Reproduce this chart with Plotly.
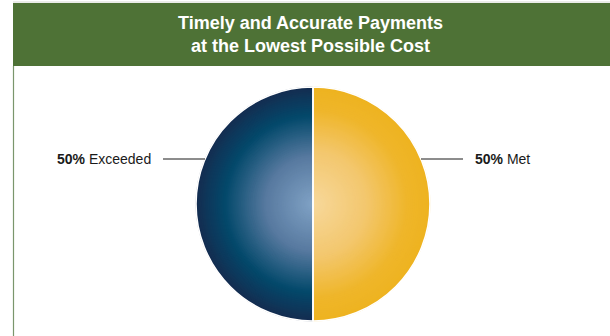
import math
import plotly.graph_objects as go

# ---- data ----
categories = ["Met", "Exceeded"]
shares = [50, 50]
title_lines = ["Timely and Accurate Payments", "at the Lowest Possible Cost"]

# ---- canvas geometry (pixels) ----
W, H = 610, 336
CX, CY, R = 313, 204, 117          # pie centre and radius
BANNER_X0, BANNER_Y0, BANNER_Y1 = 13, 3, 66
LEADER_DY = 45                     # leader lines sit this far above centre

GREEN = "#4e7236"
N_RINGS = 60
FONT = "Liberation Sans, Arial, sans-serif"


def px_x(x):
    return x / W


def px_y(y):
    return 1 - y / H


def lerp_stops(stops, t):
    for (t0, c0), (t1, c1) in zip(stops, stops[1:]):
        if t0 <= t <= t1:
            f = 0 if t1 == t0 else (t - t0) / (t1 - t0)
            return tuple(round(a + (b - a) * f) for a, b in zip(c0, c1))
    return stops[-1][1]


# radial colour ramps, centre (t=0) to rim (t=1)
gold_stops = [(0.0, (247, 216, 155)), (0.45, (243, 199, 110)),
              (0.8, (239, 182, 42)), (1.0, (238, 179, 32))]
navy_stops = [(0.0, (128, 162, 197)), (0.4, (88, 122, 160)),
              (0.75, (3, 73, 107)), (1.0, (21, 44, 80))]

fig = go.Figure()

# concentric full pies from rim inwards build up the radial shading
for k in range(N_RINGS):
    r = R * (N_RINGS - k) / N_RINGS
    t = max(0.0, (r - R / (2 * N_RINGS)) / R)
    cols = [
        "rgb(%d,%d,%d)" % lerp_stops(gold_stops, t),
        "rgb(%d,%d,%d)" % lerp_stops(navy_stops, t),
    ]
    fig.add_trace(go.Pie(
        labels=categories, values=shares, sort=False,
        direction="clockwise", rotation=0,
        domain=dict(x=[px_x(CX - r), px_x(CX + r)],
                    y=[px_y(CY + r), px_y(CY - r)]),
        marker=dict(colors=cols, line=dict(color=cols, width=0.6)),
        textinfo="none", hoverinfo="skip", showlegend=False,
    ))

# white divider between the two halves
fig.add_trace(go.Pie(
    labels=categories, values=shares, sort=False,
    direction="clockwise", rotation=0,
    domain=dict(x=[px_x(CX - R), px_x(CX + R)],
                y=[px_y(CY + R), px_y(CY - R)]),
    marker=dict(colors=["rgba(0,0,0,0)"] * 2,
                line=dict(color="white", width=1.6)),
    textinfo="none", hoverinfo="skip", showlegend=False,
))

shapes = [
    # header banner
    dict(type="rect", xref="paper", yref="paper",
         x0=px_x(BANNER_X0), x1=1, y0=px_y(BANNER_Y1), y1=px_y(BANNER_Y0),
         fillcolor=GREEN, line=dict(width=0), layer="below"),
    dict(type="line", xref="paper", yref="paper",
         x0=px_x(BANNER_X0), x1=1, y0=px_y(2), y1=px_y(2),
         line=dict(color="#d6d9d2", width=1)),
    # left frame rule
    dict(type="line", xref="paper", yref="paper",
         x0=px_x(BANNER_X0 + 0.5), x1=px_x(BANNER_X0 + 0.5),
         y0=0, y1=px_y(BANNER_Y1),
         line=dict(color="#7a966c", width=1.2)),
]

annotations = [
    dict(text="<br>".join(title_lines), xref="paper", yref="paper",
         x=px_x(310), y=px_y(35), xanchor="center", yanchor="middle",
         showarrow=False, align="center",
         font=dict(family=FONT, size=18, color="white", weight="bold")),
]

# leader lines and labels: Met on the right half, Exceeded on the left
dx_edge = math.sqrt(R ** 2 - LEADER_DY ** 2)
ly = CY - LEADER_DY
for name, val, side in zip(categories, shares, [1, -1]):
    x_edge = CX + side * dx_edge
    x_end = CX + side * (dx_edge + 42)
    shapes.append(dict(type="line", xref="paper", yref="paper",
                       x0=px_x(x_edge), x1=px_x(x_end),
                       y0=px_y(ly), y1=px_y(ly),
                       line=dict(color="#1a1a1a", width=1)))
    annotations.append(dict(
        text=f"<b>{val}%</b> {name}", xref="paper", yref="paper",
        x=px_x(x_end + side * 10), y=px_y(ly),
        xanchor="left" if side > 0 else "right", yanchor="middle",
        showarrow=False,
        font=dict(family=FONT, size=14, color="#1a1a1a"),
    ))

fig.update_layout(
    width=W, height=H,
    margin=dict(l=0, r=0, t=0, b=0),
    paper_bgcolor="white", plot_bgcolor="white",
    shapes=shapes, annotations=annotations,
)

fig.write_html("out.html")
